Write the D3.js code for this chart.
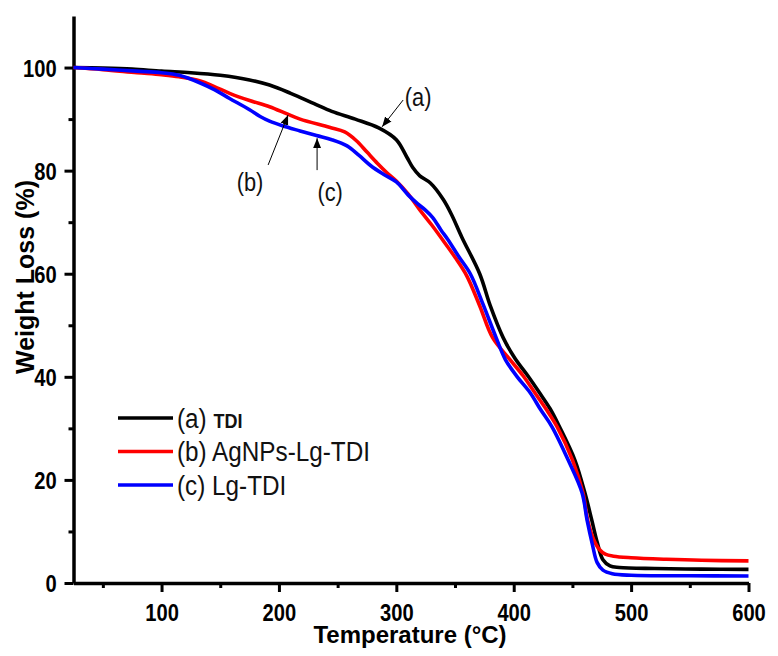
<!DOCTYPE html>
<html>
<head>
<meta charset="utf-8">
<script src="https://cdn.jsdelivr.net/npm/d3@7"></script>
<style>
  body { margin: 0; background: #fff; }
  svg { display: block; }
  .tick text { font-family: 'Liberation Sans', Arial, sans-serif; font-weight: bold; font-size: 24px; fill: #000; }
</style>
</head>
<body>
<svg id="chart"></svg>
<script>
// TGA data: temperature (°C) and weight (%)
const tempA = [25, 50, 75, 100, 125, 150, 175, 192, 210, 230, 245, 265, 285, 300, 309, 314, 320, 329, 340, 347, 356, 371, 380, 391, 401, 412, 422, 431, 439, 452, 460.6, 466.5, 471, 476, 482, 490, 520, 560, 600];
const weightA = [100, 99.9, 99.7, 99.3, 99.0, 98.5, 97.6, 96.6, 95.0, 93.0, 91.5, 90.0, 88.3, 86.0, 82.6, 80.6, 79.0, 77.6, 74.4, 71.5, 67.0, 60.0, 53.8, 47.6, 43.6, 40.2, 36.9, 33.8, 30.3, 23.9, 17.5, 12.2, 8.0, 4.5, 3.3, 3.0, 2.8, 2.7, 2.65];

const tempB = [25, 50, 79, 100, 115, 133, 145, 158, 175, 192, 207, 218, 243, 256, 266, 275, 284, 292, 300, 310, 320, 330, 340, 350, 360, 371, 382, 397, 408, 418, 428, 437, 450, 459, 463, 468, 473, 478, 485, 500, 530, 560, 600];
const weightB = [100, 99.6, 99.0, 98.6, 98.2, 97.4, 96.3, 95.0, 93.6, 92.4, 91.0, 90.0, 88.4, 87.5, 85.8, 83.6, 81.4, 79.6, 78.0, 75.5, 72.4, 69.5, 66.4, 63.2, 59.6, 53.8, 47.6, 43.3, 40.2, 36.9, 33.6, 30.3, 23.9, 17.5, 12.2, 8.5, 6.5, 5.6, 5.2, 4.9, 4.6, 4.4, 4.3];

const tempC = [25, 50, 79, 100, 115, 133, 145, 158, 175, 184, 192, 203, 218, 232, 245, 258, 268, 278, 289, 300, 310, 318, 325, 331, 338, 344, 353, 363, 374, 385, 393, 403, 414, 423, 432.6, 446.3, 458.2, 462.5, 467, 471, 476, 484, 500, 550, 600];
const weightC = [100, 99.7, 99.3, 99.0, 98.5, 97.0, 95.7, 94.0, 91.8, 90.5, 89.6, 88.7, 87.7, 86.8, 86.0, 84.8, 83.0, 81.0, 79.3, 77.8, 75.3, 73.6, 72.3, 70.9, 68.5, 66.6, 63.4, 60.0, 54.0, 47.6, 43.3, 40.0, 36.9, 33.6, 30.3, 23.9, 17.5, 12.2, 7.5, 4.0, 2.5, 1.8, 1.5, 1.4, 1.35];

const seriesNames = ['(a) ', '(b) AgNPs-Lg-TDI', '(c) Lg-TDI'];
const seriesColors = ['#000000', '#ff0000', '#0000ff'];

const xMajorTicks = [100, 200, 300, 400, 500, 600];
const xMinorTicks = [50, 150, 250, 350, 450, 550];
const yMajorTicks = [0, 20, 40, 60, 80, 100];
const yMinorTicks = [10, 30, 50, 70, 90];

// annotation labels: [label, textT, textW, arrowFromT, arrowFromW, arrowToT, arrowToW]
const notes = [
  ['(a)', 318.6, 94.3, 305.8, 93.7, 287.9, 88.5],
  ['(b)', 175.4, 77.8, 190.8, 81.1, 207.8, 90.8],
  ['(c)', 243.6, 75.8, 232.5, 80.1, 232.5, 86.3]
];

const W = 778, H = 656;
const narrow = 0.84;   // the figure uses a condensed face
const svg = d3.select('#chart').attr('width', W).attr('height', H);

const x = d3.scaleLinear().domain([25, 600]).range([73.5, 748.5]);
const y = d3.scaleLinear().domain([0, 110]).range([583, 16]);

// minor ticks first (no labels)
svg.append('g')
  .attr('transform', 'translate(0,' + y(0) + ')')
  .call(d3.axisBottom(x).tickValues(xMinorTicks).tickSize(5).tickSizeOuter(0).tickFormat(''))
  .call(g => g.select('.domain').remove())
  .selectAll('line').attr('stroke-width', 3);
svg.append('g')
  .attr('transform', 'translate(' + x(25) + ',0)')
  .call(d3.axisLeft(y).tickValues(yMinorTicks).tickSize(5).tickSizeOuter(0).tickFormat(''))
  .call(g => g.select('.domain').remove())
  .selectAll('line').attr('stroke-width', 3);

// major axes
const xAxis = svg.append('g')
  .attr('transform', 'translate(0,' + y(0) + ')')
  .call(d3.axisBottom(x).tickValues(xMajorTicks).tickSize(9).tickSizeOuter(0).tickPadding(12));
xAxis.select('.domain').attr('stroke-width', 3.5);
xAxis.selectAll('line').attr('stroke-width', 3);
xAxis.selectAll('text').attr('transform', 'scale(' + narrow + ',1)');

const yAxis = svg.append('g')
  .attr('transform', 'translate(' + x(25) + ',0)')
  .call(d3.axisLeft(y).tickValues(yMajorTicks).tickSize(9).tickSizeOuter(0).tickPadding(11));
yAxis.select('.domain').attr('stroke-width', 3.5);
yAxis.selectAll('line').attr('stroke-width', 3);
yAxis.selectAll('text').attr('dy', '0.36em').attr('transform', 'scale(' + narrow + ',1)');

// axis titles
svg.append('text')
  .attr('x', 410).attr('y', 643)
  .attr('text-anchor', 'middle')
  .style('font-family', 'Liberation Sans, Arial, sans-serif')
  .style('font-weight', 'bold')
  .style('font-size', '24px')
  .text('Temperature (°C)');

svg.append('text')
  .attr('transform', 'translate(34,' + 277 + ') rotate(-90)')
  .attr('text-anchor', 'middle')
  .style('font-family', 'Liberation Sans, Arial, sans-serif')
  .style('font-weight', 'bold')
  .style('font-size', '25px')
  .text('Weight Loss (%)');

// curves
const datasets = [
  tempA.map((t, i) => ({ t: t, w: weightA[i] })),
  tempB.map((t, i) => ({ t: t, w: weightB[i] })),
  tempC.map((t, i) => ({ t: t, w: weightC[i] }))
];
const line = d3.line().x(d => x(d.t)).y(d => y(d.w)).curve(d3.curveCatmullRom.alpha(0.5));

// draw black first, then red, then blue on top
datasets.forEach((ds, i) => {
  svg.append('path')
    .datum(ds)
    .attr('fill', 'none')
    .attr('stroke', seriesColors[i])
    .attr('stroke-width', 3.6)
    .attr('stroke-linejoin', 'round')
    .attr('d', line);
});

// legend
const legend = svg.append('g');
seriesNames.forEach((name, i) => {
  const ly = 418 + i * 33.5;
  legend.append('line')
    .attr('x1', 118).attr('x2', 173)
    .attr('y1', ly).attr('y2', ly)
    .attr('stroke', seriesColors[i])
    .attr('stroke-width', 3.6);
  const txt = legend.append('text')
    .attr('transform', 'translate(177,' + (ly + 9.5) + ') scale(0.9,1)')
    .style('font-family', 'Liberation Sans, Arial, sans-serif')
    .style('font-size', '27px')
    .attr('fill', '#111')
    .text(name);
  if (i === 0) {
    txt.append('tspan')
      .style('font-weight', 'bold')
      .style('font-size', '20px')
      .text('TDI');
  }
});

// arrow annotations
svg.append('defs').append('marker')
  .attr('id', 'arrow')
  .attr('viewBox', '0 0 10 10')
  .attr('refX', 10).attr('refY', 5)
  .attr('markerWidth', 10).attr('markerHeight', 10)
  .attr('markerUnits', 'userSpaceOnUse')
  .attr('orient', 'auto')
  .append('path')
  .attr('d', 'M0,1 L10,5 L0,9 Z')
  .attr('fill', '#000');

notes.forEach(n => {
  svg.append('line')
    .attr('x1', x(n[3])).attr('y1', y(n[4]))
    .attr('x2', x(n[5])).attr('y2', y(n[6]))
    .attr('stroke', '#000')
    .attr('stroke-width', 1)
    .attr('marker-end', 'url(#arrow)');
  svg.append('text')
    .attr('transform', 'translate(' + x(n[1]) + ',' + y(n[2]) + ') scale(' + narrow + ',1)')
    .attr('text-anchor', 'middle')
    .attr('dy', '0.35em')
    .style('font-family', 'Liberation Sans, Arial, sans-serif')
    .style('font-size', '26px')
    .attr('fill', '#111')
    .text(n[0]);
});
</script>
</body>
</html>
